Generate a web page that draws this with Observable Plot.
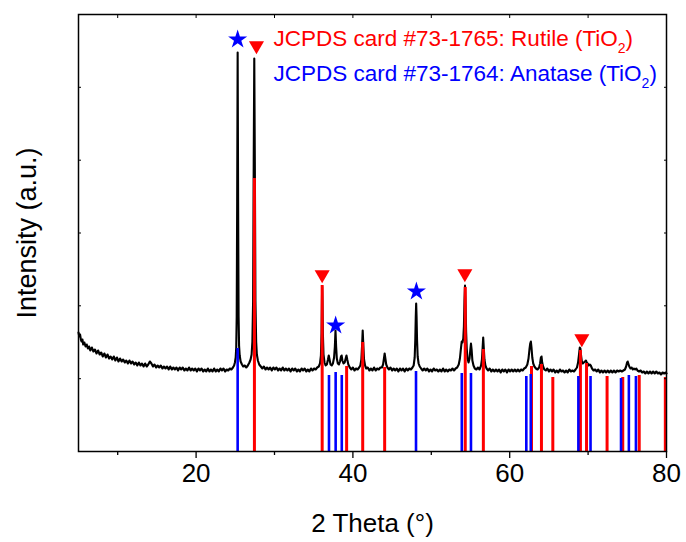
<!DOCTYPE html>
<html><head><meta charset="utf-8">
<script src="https://cdn.jsdelivr.net/npm/d3@7"></script>
<script src="https://cdn.jsdelivr.net/npm/@observablehq/plot@0.6"></script>
<style>body{margin:0;background:#fff;}</style>
</head><body><div id="chart"></div>
<script>
// XRD scan: [2theta, intensity (a.u.)]
const scan = [
[5.0,119],[5.1,115],[5.2,117],[5.3,112],[5.4,110],[5.5,112],[5.6,107],[5.75,109],[5.9,105],[6.05,107],[6.2,103],[6.35,105],[6.5,101],[6.7,104],[6.9,100],[7.1,102],[7.3,98],[7.5,101],[7.7,97],[7.9,99],[8.1,95],[8.3,98],[8.5,94],[8.7,97],[8.9,93],[9.1,95],[9.3,92],[9.5,95],[9.7,91],[9.9,94],[10.1,90],[10.3,93],[10.5,90],[10.7,92],[10.9,89],[11.1,91],[11.3,88],[11.5,91],[11.7,88],[11.9,90],[12.1,87],[12.3,89],[12.5,86],[12.7,89],[12.9,86],[13.1,88],[13.3,85],[13.5,88],[13.7,85],[13.9,87],[14.1,90],[14.3,88],[14.5,85],[14.7,87],[14.9,84],[15.1,86],[15.3,84],[15.5,86],[15.7,83],[15.9,85],[16.1,83],[16.3,85],[16.5,82],[16.7,85],[16.9,82],[17.1,84],[17.3,82],[17.5,84],[17.7,81],[17.9,84],[18.1,82],[18.3,84],[18.5,81],[18.7,83],[18.9,81],[19.1,84],[19.3,81],[19.5,83],[19.7,81],[19.9,83],[20.1,80],[20.3,83],[20.5,81],[20.7,83],[20.9,80],[21.1,82],[21.3,80],[21.5,83],[21.7,80],[21.9,82],[22.1,80],[22.3,83],[22.5,80],[22.7,82],[22.9,80],[23.1,83],[23.3,81],[23.5,83],[23.7,80],[23.9,82],[24.1,81],[24.3,83],[24.5,82],[24.7,84],
[24.85,86],[24.95,89],[25.05,94],[25.12,104],[25.18,135],[25.24,250],[25.3,399],[25.36,250],[25.42,135],[25.48,106],[25.56,96],[25.68,90],[25.85,87],[26.0,85],[26.2,86],[26.4,84],[26.6,86],[26.8,89],[26.95,92],[27.08,97],[27.18,110],[27.27,150],[27.35,290],[27.42,393],[27.49,290],[27.57,150],[27.66,110],[27.75,97],[27.88,91],[28.05,87],[28.25,85],
[28.45,83],[28.65,85],[28.85,82],[29.05,84],[29.25,82],[29.45,84],[29.65,81],[29.85,84],[30.05,82],[30.25,84],[30.45,81],[30.65,83],[30.85,81],[31.05,84],[31.25,81],[31.45,83],[31.65,81],[31.85,83],[32.05,80],[32.25,83],[32.45,81],[32.65,83],[32.85,80],[33.05,82],[33.25,80],[33.45,83],[33.65,81],[33.85,83],[34.05,80],[34.25,82],[34.45,80],[34.65,83],[34.85,81],[35.05,83],[35.25,82],[35.45,84],[35.65,85],
[35.8,88],[35.92,96],[36.0,118],[36.05,150],[36.08,165],[36.12,150],[36.17,118],[36.25,97],[36.38,89],[36.52,86],[36.68,87],[36.82,92],[36.92,96],[37.02,92],[37.15,87],[37.3,86],[37.45,88],[37.6,94],[37.7,105],[37.78,121],[37.86,105],[37.95,93],[38.08,88],[38.22,87],[38.36,90],[38.48,95],[38.56,96],[38.66,91],[38.8,88],[38.95,89],[39.08,93],[39.18,96],[39.28,92],[39.42,87],[39.6,84],[39.8,82],[40.0,84],[40.2,81],[40.4,83],[40.6,82],[40.8,84],[40.95,86],[41.08,92],[41.17,106],[41.25,121],[41.33,106],[41.42,92],[41.55,86],[41.7,83],[41.9,84],[42.1,81],[42.3,83],[42.5,81],[42.7,84],[42.9,81],[43.1,83],[43.3,82],[43.5,84],[43.7,84],[43.85,87],[43.96,93],[44.05,98],[44.14,93],[44.25,87],[44.4,84],[44.6,82],[44.8,84],[45.0,81],[45.2,83],[45.4,81],[45.6,83],[45.8,80],[46.0,83],[46.2,81],[46.4,83],[46.6,80],[46.8,83],[47.0,81],[47.2,83],[47.4,82],[47.6,84],[47.75,86],[47.88,94],[47.96,112],[48.02,135],[48.07,148],[48.12,135],[48.18,112],[48.26,95],[48.38,88],[48.52,85],[48.7,83],[48.9,81],[49.1,83],[49.3,81],[49.5,83],[49.7,80],[49.9,82],[50.1,80],[50.3,83],[50.5,81],[50.7,82],[50.9,80],[51.1,82],[51.3,80],[51.5,83],[51.7,80],[51.9,82],[52.1,80],[52.3,82],[52.5,81],[52.7,83],[52.9,81],[53.1,83],[53.3,84],[53.5,87],[53.65,93],[53.78,103],[53.88,110],[53.98,109],[54.08,113],[54.16,125],[54.23,150],[54.3,166],[54.37,148],[54.44,120],[54.52,103],[54.62,93],[54.75,89],[54.88,93],[54.98,102],[55.06,108],[55.14,102],[55.24,91],[55.38,86],[55.55,83],[55.75,82],[55.95,84],[56.15,82],[56.35,86],[56.46,92],[56.55,104],[56.62,114],[56.69,104],[56.78,92],[56.9,86],[57.05,83],[57.25,81],[57.45,83],[57.65,80],[57.85,82],[58.05,80],[58.25,82],[58.45,80],[58.65,82],[58.85,79],[59.05,82],[59.25,80],[59.45,82],[59.65,79],[59.85,82],[60.05,80],[60.25,82],[60.45,80],[60.65,82],[60.85,80],[61.05,82],[61.25,80],[61.45,82],[61.65,81],[61.85,83],[62.05,84],[62.25,87],[62.4,93],[62.52,102],[62.62,108],[62.7,110],[62.78,104],[62.88,94],[63.0,88],[63.15,85],[63.35,83],[63.55,82],[63.75,84],[63.88,88],[63.98,94],[64.06,95],[64.14,89],[64.26,85],[64.42,82],[64.6,81],[64.8,83],[65.0,80],[65.2,82],[65.4,80],[65.6,82],[65.8,79],[66.0,81],[66.2,79],[66.4,82],[66.6,80],[66.8,81],[67.0,79],[67.2,81],[67.4,79],[67.6,82],[67.8,80],[68.0,81],[68.2,80],[68.4,82],[68.58,84],[68.72,89],[68.84,97],[68.94,104],[69.02,103],[69.1,96],[69.2,90],[69.32,88],[69.45,89],[69.6,90],[69.72,91],[69.82,89],[69.95,88],[70.08,86],[70.22,87],[70.34,86],[70.5,83],[70.7,81],[70.9,82],[71.1,80],[71.3,82],[71.5,79],[71.7,81],[71.9,79],[72.1,81],[72.3,79],[72.5,81],[72.7,79],[72.9,81],[73.1,79],[73.3,81],[73.5,79],[73.7,81],[73.9,80],[74.1,81],[74.3,80],[74.5,81],[74.7,82],[74.85,85],[74.97,89],[75.05,90],[75.13,88],[75.25,85],[75.4,83],[75.55,84],[75.7,82],[75.85,83],[76.0,82],[76.15,83],[76.3,81],[76.5,80],[76.7,81],[76.9,79],[77.1,80],[77.3,78],[77.5,80],[77.7,78],[77.9,80],[78.1,78],[78.3,80],[78.5,78],[78.7,80],[78.9,78],[79.1,79],[79.3,77],[79.5,79],[79.7,78],[79.9,79],[80.0,78]
];

// Reference stick patterns
const rutileTheta  = [27.44, 36.08, 39.2, 41.25, 44.05, 54.33, 56.64, 62.78, 64.05, 65.5, 69.02, 69.8, 72.42, 74.42, 76.52, 79.85];
const rutileHeight = [273, 166, 85, 109, 84, 164, 102, 85, 87, 74, 101, 88, 75, 74, 76, 74];
const anataseTheta  = [25.3, 36.95, 37.8, 38.58, 48.05, 53.89, 55.06, 62.12, 62.69, 68.76, 70.31, 74.2, 75.2, 76.1];
const anataseHeight = [103, 76, 79, 76, 80, 78, 78, 75, 77, 75, 75, 73, 76, 75];

// Phase markers
const starTheta = [25.3, 37.8, 48.1];
const starLevel = [412, 126, 160];
const triTheta = [27.7, 36.08, 54.28, 69.2];
const triLevel = [406, 177, 178, 113];

// Axes
const xMajorTicks = [20, 40, 60, 80];
const xMinorTicks = [10, 30, 50, 70];
const xTopTicks = [10, 20, 30, 40, 50, 60, 70];
const yTicks = [72.8, 145.7, 218.5, 291.3, 364.2];
const xTitle = "2 Theta (°)";
const yTitle = "Intensity (a.u.)";
const legendRutile = "JCPDS card #73-1765: Rutile (TiO2)";
const legendAnatase = "JCPDS card #73-1764: Anatase (TiO2)";

const rutile = rutileTheta.map((t, i) => ({theta: t, h: rutileHeight[i]}));
const anatase = anataseTheta.map((t, i) => ({theta: t, h: anataseHeight[i]}));
const stars = starTheta.map((t, i) => ({theta: t, v: starLevel[i]}));
const tris = triTheta.map((t, i) => ({theta: t, v: triLevel[i]}));

const RED = "#ff0000", BLUE = "#0000ff";

const chart = Plot.plot({
  width: 686, height: 542,
  marginLeft: 78, marginRight: 20, marginTop: 14, marginBottom: 91,
  style: {fontFamily: "'Liberation Sans', Arial, sans-serif", background: "#fff", color: "#000"},
  x: {domain: [5, 80]},
  y: {domain: [0, 437]},
  marks: [
    Plot.line(scan, {x: d => d[0], y: d => d[1], stroke: "#000", strokeWidth: 2.1, strokeLinejoin: "round"}),
    Plot.ruleX(rutile, {x: "theta", y1: 0, y2: "h", stroke: RED, strokeWidth: 3}),
    Plot.ruleX(anatase, {x: "theta", y1: 0, y2: "h", stroke: BLUE, strokeWidth: 2.6}),
    Plot.dot(stars, {x: "theta", y: "v", symbol: "star", r: 6, fill: BLUE, stroke: "none"}),
    Plot.dot(tris, {x: "theta", y: "v", symbol: "triangle", rotate: 180, r: 5.6, fill: RED, stroke: "none"}),
    Plot.text([legendRutile], {text: d => d, frameAnchor: "top-left", dx: 195, dy: 24, fill: RED, fontSize: 22.5, textAnchor: "start", lineAnchor: "middle"}),
    Plot.text([legendAnatase], {text: d => d, frameAnchor: "top-left", dx: 195, dy: 59, fill: BLUE, fontSize: 22.5, textAnchor: "start", lineAnchor: "middle"}),
    Plot.axisX({ticks: xMajorTicks, tickSize: 7, tickPadding: 5, fontSize: 26, label: xTitle, labelAnchor: "center", labelArrow: "none", labelOffset: 80, strokeWidth: 1.3}),
    Plot.axisX({ticks: xMinorTicks, tickSize: 4, tickFormat: () => "", label: null, strokeWidth: 1.3}),
    Plot.axisX({anchor: "top", ticks: xTopTicks, tickSize: -3, tickFormat: () => "", label: null}),
    Plot.axisY({ticks: yTicks, tickSize: -3, tickFormat: () => "", fontSize: 27, label: yTitle, labelAnchor: "center", labelArrow: "none", labelOffset: 62}),
    Plot.axisY({anchor: "right", ticks: yTicks, tickSize: -3, tickFormat: () => "", label: null}),
    Plot.frame({stroke: "#000", strokeWidth: 1.5})
  ]
});

// Subscript for TiO2 in the legend lines
d3.select(chart).selectAll("text").each(function() {
  const t = this.textContent;
  const m = t.match(/^(.*TiO)2\)$/);
  if (!m) return;
  const sel = d3.select(this);
  sel.text(null);
  sel.append("tspan").text(m[1]);
  sel.append("tspan").attr("font-size", 14).attr("dy", 7).text("2");
  sel.append("tspan").attr("dy", -7).text(")");
});

document.getElementById("chart").appendChild(chart);
</script>
</body></html>
